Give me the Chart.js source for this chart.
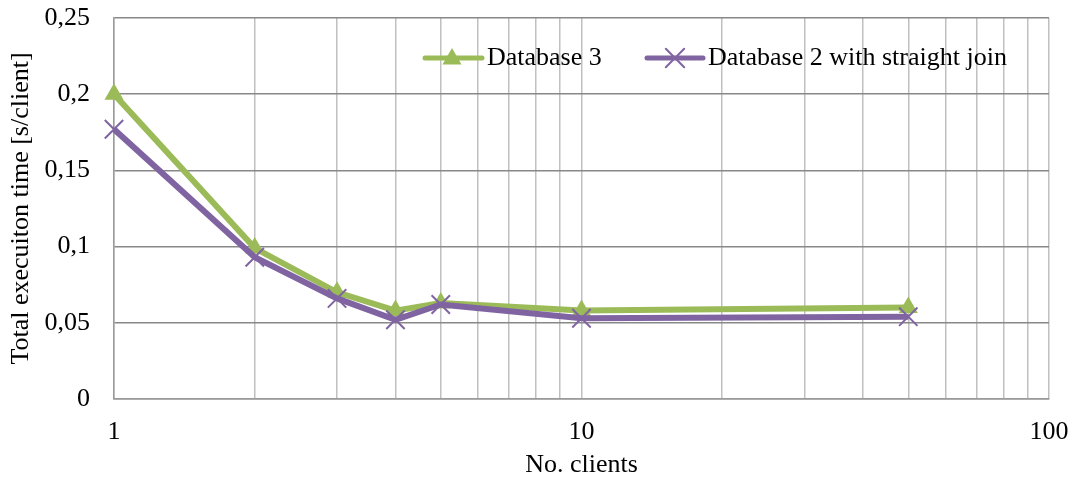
<!DOCTYPE html>
<html>
<head>
<meta charset="utf-8">
<script src="https://cdn.jsdelivr.net/npm/chart.js@4/dist/chart.umd.min.js"></script>
<style>
  html, body { margin: 0; padding: 0; background: #ffffff; }
  #wrap { width: 1077px; height: 481px; }
</style>
</head>
<body>
<div id="wrap"><canvas id="c" width="1077" height="481"></canvas></div>
<script>
// Number of clients (log scale) and execution time per client
const clients = [1, 2, 3, 4, 5, 10, 50];
const database3 = [0.200, 0.099, 0.070, 0.058, 0.063, 0.058, 0.060];
const database2Straight = [0.177, 0.093, 0.066, 0.052, 0.062, 0.053, 0.054];

const seriesNames = ['Database 3', 'Database 2 with straight join'];
const xGridValues = [1, 2, 3, 4, 5, 6, 7, 8, 9, 10, 20, 30, 40, 50, 60, 70, 80, 90, 100];
const xTickLabels = [1, 10, 100];
const yTickValues = [0, 0.05, 0.1, 0.15, 0.2, 0.25];

const GREEN = '#9bbb59';
const PURPLE = '#8064a2';
const FONT = '"Liberation Serif", "Times New Roman", serif';

function toPoints(xs, ys) {
  return xs.map((x, i) => ({ x: x, y: ys[i] }));
}

function drawTriangle(ctx, x, y, r, color) {
  ctx.beginPath();
  ctx.moveTo(x, y - r);
  ctx.lineTo(x + r * 0.866, y + r * 0.5);
  ctx.lineTo(x - r * 0.866, y + r * 0.5);
  ctx.closePath();
  ctx.fillStyle = color;
  ctx.fill();
}

function drawCross(ctx, x, y, r, color, w) {
  const d = r * 0.7071;
  ctx.beginPath();
  ctx.moveTo(x - d, y - d); ctx.lineTo(x + d, y + d);
  ctx.moveTo(x + d, y - d); ctx.lineTo(x - d, y + d);
  ctx.strokeStyle = color;
  ctx.lineWidth = w;
  ctx.stroke();
}

// In-plot legend: line sample with its marker, followed by the series name
const plotLegend = {
  id: 'plotLegend',
  afterDatasetsDraw(chart) {
    const ctx = chart.ctx;
    const y = 58;
    const items = [
      { lineFrom: 425, lineTo: 482, marker: 452, text: 487, ds: 0 },
      { lineFrom: 647, lineTo: 703, marker: 675, text: 708, ds: 1 }
    ];
    ctx.save();
    items.forEach(it => {
      const ds = chart.data.datasets[it.ds];
      ctx.beginPath();
      ctx.moveTo(it.lineFrom, y);
      ctx.lineTo(it.lineTo, y);
      ctx.strokeStyle = ds.borderColor;
      ctx.lineWidth = 5;
      ctx.lineCap = 'round';
      ctx.stroke();
      if (ds.pointStyle === 'triangle') {
        drawTriangle(ctx, it.marker, y + 1, 11, ds.borderColor);
      } else {
        drawCross(ctx, it.marker, y, 13, ds.borderColor, 2);
      }
      ctx.fillStyle = '#000000';
      ctx.font = '26px ' + FONT;
      ctx.textBaseline = 'middle';
      ctx.textAlign = 'left';
      ctx.fillText(ds.label, it.text, y);
    });
    ctx.restore();
  }
};

const whiteBg = {
  id: 'whiteBg',
  beforeDraw(chart) {
    const ctx = chart.ctx;
    ctx.save();
    ctx.fillStyle = '#ffffff';
    ctx.fillRect(0, 0, chart.width, chart.height);
    ctx.restore();
  }
};

new Chart(document.getElementById('c'), {
  type: 'line',
  data: {
    datasets: [
      {
        label: seriesNames[0],
        data: toPoints(clients, database3),
        borderColor: GREEN,
        backgroundColor: GREEN,
        borderWidth: 6,
        pointStyle: 'triangle',
        pointRadius: 11,
        pointBorderWidth: 0,
        pointBackgroundColor: GREEN,
        pointBorderColor: GREEN,
        tension: 0,
        clip: false,
        order: 2
      },
      {
        label: seriesNames[1],
        data: toPoints(clients, database2Straight),
        borderColor: PURPLE,
        backgroundColor: PURPLE,
        borderWidth: 6,
        pointStyle: 'crossRot',
        pointRadius: 13,
        pointBorderWidth: 2,
        pointBorderColor: PURPLE,
        tension: 0,
        clip: false,
        order: 1
      }
    ]
  },
  options: {
    responsive: false,
    animation: false,
    devicePixelRatio: 1,
    layout: { padding: { top: 18, right: 28, left: 0, bottom: 0 } },
    plugins: {
      legend: { display: false },
      tooltip: { enabled: false }
    },
    scales: {
      x: {
        type: 'logarithmic',
        min: 1,
        max: 100,
        afterBuildTicks(scale) {
          scale.ticks = xGridValues.map(v => ({ value: v }));
        },
        afterFit(scale) {
          scale.height = 82;
          scale.paddingLeft = 0;
          scale.paddingRight = 0;
        },
        grid: { color: '#c0c0c0', lineWidth: 1.5, drawTicks: false },
        border: { color: '#9a9a9a', width: 1.5 },
        ticks: {
          autoSkip: false,
          maxRotation: 0,
          padding: 18,
          color: '#000000',
          font: { family: FONT, size: 26 },
          callback(value) {
            return xTickLabels.includes(value) ? String(value) : '';
          }
        },
        title: {
          display: true,
          text: 'No. clients',
          color: '#000000',
          font: { family: FONT, size: 26 },
          padding: { top: 0, bottom: 0 }
        }
      },
      y: {
        type: 'linear',
        min: 0,
        max: 0.25,
        afterBuildTicks(scale) {
          scale.ticks = yTickValues.map(v => ({ value: v }));
        },
        afterFit(scale) {
          scale.width = 114;
          scale.paddingTop = 0;
          scale.paddingBottom = 0;
        },
        grid: { color: '#888888', lineWidth: 1.5, drawTicks: false },
        border: { color: '#9a9a9a', width: 1.5 },
        ticks: {
          padding: 24,
          color: '#000000',
          font: { family: FONT, size: 26 },
          callback(value) {
            return String(Math.round(value * 100) / 100).replace('.', ',');
          }
        },
        title: {
          display: true,
          text: 'Total execuiton time [s/client]',
          color: '#000000',
          font: { family: FONT, size: 26 },
          padding: { top: 6, bottom: 0 }
        }
      }
    }
  },
  plugins: [whiteBg, plotLegend]
});
</script>
</body>
</html>
